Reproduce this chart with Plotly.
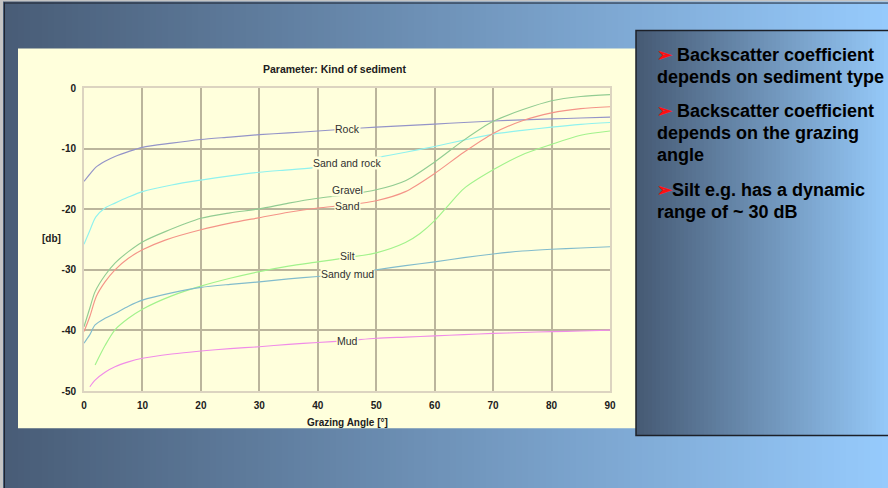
import plotly.graph_objects as go

# ---------------- data ----------------
rock_x = [0, 1, 2, 3.6, 5.3, 7.6, 10, 15, 20, 25, 30, 35, 40, 45, 50, 55, 60, 65, 70, 75, 80, 85, 90]
rock_y = [-15.4, -14.2, -13.1, -12.1, -11.3, -10.5, -9.8, -9.1, -8.5, -8.1, -7.7, -7.4, -7.1, -6.75,
          -6.45, -6.2, -5.95, -5.7, -5.45, -5.25, -5.1, -4.95, -4.8]

sandrock_x = [0, 1, 2, 3.6, 5.3, 7.6, 10, 15, 20, 25, 30, 35, 40, 45, 50, 55, 60, 65, 70, 75, 80, 85, 90]
sandrock_y = [-25.8, -23.5, -21.3, -19.8, -19.0, -18.0, -17.1, -16.0, -15.2, -14.5, -13.9, -13.5, -13.1,
              -12.4, -11.5, -10.6, -9.65, -8.6, -7.6, -7.0, -6.45, -6.0, -5.7]

gravel_x = [0, 1, 1.9, 3.6, 5.3, 7.6, 10, 13.9, 20, 25, 30, 35, 40, 45, 50, 55, 60, 65, 70, 75, 80, 85, 90]
gravel_y = [-39.4, -36.3, -33.6, -30.9, -28.9, -27.0, -25.4, -23.7, -21.5, -20.6, -19.95, -19.0, -18.2,
            -17.6, -16.8, -15.3, -12.2, -8.6, -5.5, -3.6, -2.1, -1.4, -1.1]

sand_x = [0, 1, 2.1, 3.6, 5.3, 7.6, 10, 13.9, 20, 25, 30, 35, 40, 45, 50, 55, 60, 65, 70, 75, 80, 85, 90]
sand_y = [-40.2, -37.7, -34.4, -32.0, -30.0, -28.1, -26.7, -25.1, -23.4, -22.3, -21.4, -20.5, -19.8,
          -19.3, -18.6, -17.1, -14.1, -10.6, -7.5, -5.4, -4.1, -3.4, -3.1]

silt_x = [1.9, 3.6, 5.3, 7.6, 10, 15, 20, 25, 30, 35, 40, 45, 50, 55, 57.5, 60, 62.5, 65, 70, 75, 80, 85, 90]
silt_y = [-45.7, -42.5, -39.9, -38.0, -36.5, -34.3, -32.7, -31.4, -30.3, -29.4, -28.7, -28.0, -27.2,
          -25.5, -24.0, -21.9, -19.2, -16.6, -13.5, -11.0, -9.3, -7.8, -7.1]

sandymud_x = [0, 1, 1.9, 3.6, 5.3, 7.6, 10, 15, 20, 25, 30, 35, 40, 45, 50, 55, 60, 65, 70, 75, 80, 85, 90]
sandymud_y = [-42.1, -40.7, -39.1, -38.0, -37.2, -36.0, -35.0, -33.8, -32.9, -32.4, -32.0, -31.5, -31.1,
              -30.6, -30.0, -29.3, -28.7, -28.0, -27.4, -26.9, -26.6, -26.4, -26.2]

mud_x = [1.0, 1.9, 3.6, 5.3, 7.6, 10, 15, 20, 25, 30, 35, 40, 45, 50, 55, 60, 65, 70, 75, 80, 85, 90]
mud_y = [-49.3, -48.2, -46.9, -46.0, -45.2, -44.6, -43.9, -43.4, -43.0, -42.7, -42.3, -42.0, -41.7,
         -41.3, -41.1, -40.9, -40.7, -40.5, -40.35, -40.2, -40.1, -39.95]

series_names = ["Rock", "Sand and rock", "Gravel", "Sand", "Silt", "Sandy mud", "Mud"]
series_x = [rock_x, sandrock_x, gravel_x, sand_x, silt_x, sandymud_x, mud_x]
series_y = [rock_y, sandrock_y, gravel_y, sand_y, silt_y, sandymud_y, mud_y]
series_colors = ["#9494c8", "#90f2ee", "#92cc92", "#f49488", "#a2f28c", "#82bccc", "#f08ce8"]

label_x = [45, 45, 45, 45, 45, 45, 45]
label_y = [-6.7, -12.4, -16.9, -19.5, -27.8, -30.7, -41.7]

x_tickvals = [0, 10, 20, 30, 40, 50, 60, 70, 80, 90]
x_ticktext = ["0", "10", "20", "30", "40", "50", "60", "70", "80", "90"]
y_tickvals = [0, -10, -20, -30, -40, -50]
y_ticktext = ["0", "-10", "-20", "-30", "-40", "-50"]

chart_title = "Parameter: Kind of sediment"
x_title = "Grazing Angle [°]"
y_title = "[db]"

bullets = [
    ("➢ ", "Backscatter coefficient"),
    ("", "depends on sediment type"),
    ("➢ ", "Backscatter coefficient"),
    ("", "depends on the grazing"),
    ("", "angle"),
    ("➢", "Silt e.g. has a dynamic"),
    ("", "range of ~ 30 dB"),
]
bullet_baselines = [62, 83.5, 118, 140, 162, 197, 218.5]

# ---------------- geometry ----------------
W, H = 888, 488
PL, PR, PT, PB = 84, 610, 88.3, 390.7
FONT = "Liberation Sans, Arial, sans-serif"
CREAM = "#ffffdc"


def px(x):
    return (x - PL) / (PR - PL)


def py(y):
    return (PB - y) / (PB - PT)


def lerp_color(c1, c2, t):
    return "rgb(%d,%d,%d)" % tuple(round(a + (b - a) * t) for a, b in zip(c1, c2))


shapes = []
# slide background gradient
left_c, right_c = (72, 92, 118), (150, 202, 252)
n = 148
for i in range(n):
    x0 = i * W / n
    x1 = (i + 1) * W / n + 0.6
    shapes.append(dict(type="rect", xref="paper", yref="paper", x0=px(x0), x1=px(x1),
                       y0=py(H + 2), y1=py(-2), fillcolor=lerp_color(left_c, right_c, i / (n - 1)),
                       line=dict(width=0), layer="below"))
# slide frame
shapes.append(dict(type="line", xref="paper", yref="paper", x0=px(1.5), x1=px(1.5), y0=py(H), y1=py(0),
                   line=dict(color="#c4c4c4", width=3), layer="below"))
shapes.append(dict(type="line", xref="paper", yref="paper", x0=px(4.5), x1=px(4.5), y0=py(H), y1=py(3),
                   line=dict(color="#1e2430", width=1), layer="below"))
shapes.append(dict(type="line", xref="paper", yref="paper", x0=px(0), x1=px(W), y0=py(1), y1=py(1),
                   line=dict(color="#c4c4c4", width=2), layer="below"))
shapes.append(dict(type="line", xref="paper", yref="paper", x0=px(4), x1=px(W), y0=py(3.5), y1=py(3.5),
                   line=dict(color="#1e2430", width=1), layer="below"))

# cream chart panel
shapes.append(dict(type="rect", xref="paper", yref="paper", x0=px(18), x1=px(636), y0=py(428), y1=py(49),
                   fillcolor=CREAM, line=dict(width=0), layer="below"))

# text box gradient
bx0, bx1, by0, by1 = 636, 892, 31, 435
m = 64
for i in range(m):
    x0 = bx0 + i * (bx1 - bx0) / m
    x1 = bx0 + (i + 1) * (bx1 - bx0) / m + 0.6
    shapes.append(dict(type="rect", xref="paper", yref="paper", x0=px(x0), x1=px(x1),
                       y0=py(by1), y1=py(by0), fillcolor=lerp_color((70, 90, 116), (150, 202, 250), i / (m - 1)),
                       line=dict(width=0), layer="below"))
shapes.append(dict(type="rect", xref="paper", yref="paper", x0=px(bx0), x1=px(bx1), y0=py(by1), y1=py(by0),
                   fillcolor="rgba(0,0,0,0)", line=dict(color="#1c2028", width=1.5), layer="below"))

fig = go.Figure()
for name, xs, ys, col in zip(series_names, series_x, series_y, series_colors):
    fig.add_trace(go.Scatter(x=xs, y=ys, mode="lines", name=name,
                             line=dict(color=col, width=1.15, shape="spline", smoothing=0.8),
                             hoverinfo="skip"))

annotations = []
for name, lx, ly in zip(series_names, label_x, label_y):
    annotations.append(dict(x=lx, y=ly, xref="x", yref="y", text=name, showarrow=False,
                            font=dict(family=FONT, size=10.5, color="#303030"),
                            bgcolor=CREAM, borderpad=0, xanchor="center", yanchor="middle"))

annotations.append(dict(x=px(334), y=py(69), xref="paper", yref="paper", text=chart_title, showarrow=False,
                        font=dict(family=FONT, size=10.5, color="#202020", weight="bold"),
                        xanchor="center", yanchor="middle"))
annotations.append(dict(x=px(51), y=py(239), xref="paper", yref="paper", text=y_title, showarrow=False,
                        font=dict(family=FONT, size=10, color="#202020", weight="bold"),
                        xanchor="center", yanchor="middle"))
annotations.append(dict(x=px(347), y=py(422), xref="paper", yref="paper", text=x_title, showarrow=False,
                        font=dict(family=FONT, size=10, color="#202020", weight="bold"),
                        xanchor="center", yanchor="middle"))

for (arrow, txt), base in zip(bullets, bullet_baselines):
    t = ("<span style='color:#ff1010'>%s</span>" % arrow if arrow else "") + txt
    annotations.append(dict(x=px(655), y=py(base - 6.5), xref="paper", yref="paper", text=t,
                            showarrow=False, font=dict(family=FONT, size=18, color="#000000", weight="bold"),
                            xanchor="left", yanchor="middle", align="left"))

fig.update_layout(
    width=W, height=H,
    margin=dict(l=PL, r=W - PR, t=PT, b=H - PB, pad=0),
    paper_bgcolor=CREAM, plot_bgcolor=CREAM,
    showlegend=False,
    shapes=shapes,
    annotations=annotations,
    xaxis=dict(range=[0, 90], tickvals=x_tickvals, ticktext=x_ticktext, showgrid=True,
               gridcolor="#bbb59c", gridwidth=1.5, zeroline=False, showline=True, mirror=True,
               linecolor="#dcd4c0", linewidth=2, ticks="outside", ticklen=4, tickcolor="rgba(0,0,0,0)",
               tickfont=dict(family=FONT, size=10, color="#202020", weight="bold"), fixedrange=True),
    yaxis=dict(range=[-50, 0], tickvals=y_tickvals, ticktext=y_ticktext, showgrid=True,
               gridcolor="#bbb59c", gridwidth=1.5, zeroline=False, showline=True, mirror=True,
               linecolor="#dcd4c0", linewidth=2, ticks="outside", ticklen=4, tickcolor="rgba(0,0,0,0)",
               tickfont=dict(family=FONT, size=10, color="#202020", weight="bold"), fixedrange=True),
)

fig.write_html("out.html", config={"displayModeBar": False})

# remove the browser's default page margin so the figure sits at the window's top-left corner
with open("out.html", "r", encoding="utf-8") as f:
    html = f.read()
html = html.replace("<head>", "<head><style>html,body{margin:0;padding:0;overflow:hidden;}</style>", 1)
with open("out.html", "w", encoding="utf-8") as f:
    f.write(html)
